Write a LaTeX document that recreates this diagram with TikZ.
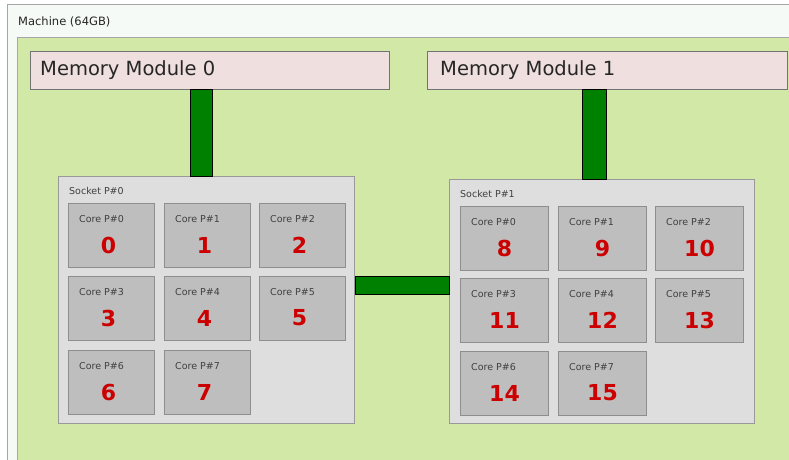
\documentclass[tikz,border=0pt]{standalone}
\usepackage{fontspec}
\setmainfont{DejaVu Sans}
\usetikzlibrary{calc}
\definecolor{machbg}{HTML}{F5FAF6}
\definecolor{bggreen}{HTML}{D2E8A6}
\definecolor{memfill}{HTML}{EFDFDF}
\definecolor{sockfill}{HTML}{DEDEDE}
\definecolor{corefill}{HTML}{BEBEBE}
\definecolor{coreline}{HTML}{8E8E8E}
\definecolor{numred}{HTML}{CC0000}
\definecolor{linkgreen}{HTML}{008000}
\tikzset{
  membox/.style={draw=gray!90!black, fill=memfill, line width=0.8pt, anchor=north west, minimum width=359pt, minimum height=38pt, inner sep=0pt},
  memtext/.style={anchor=west, font=\fontsize{19.5}{22}\selectfont, text=black!85, inner sep=0pt},
  sockbox/.style={draw=gray!80, fill=sockfill, line width=1pt, anchor=north west, inner sep=0pt},
  socktext/.style={anchor=west, font=\fontsize{9.5}{11}\selectfont, text=black!75, inner sep=0pt},
  corebox/.style={draw=coreline, fill=corefill, line width=1pt, anchor=north west, minimum width=86pt, minimum height=64pt, inner sep=0pt},
  coretext/.style={anchor=west, font=\fontsize{9.5}{11}\selectfont, text=black!75, inner sep=0pt},
  corenum/.style={font=\bfseries\fontsize{22}{24}\selectfont, text=numred, inner sep=0pt},
  link/.style={draw=black, fill=linkgreen, line width=0.8pt},
}
\begin{document}
\begin{tikzpicture}[x=1pt,y=-1pt]
\useasboundingbox (0,0) rectangle (789,460);
\fill[white] (0,0) rectangle (789,460);
% machine
\fill[machbg] (7,5) rectangle (789,460);
\draw[gray!70, line width=1pt] (7,460) -- (7,5) -- (789,5);
\node[anchor=west, font=\fontsize{11.5}{13}\selectfont, text=black!85, inner sep=0pt] (machtitle) at (18,22) {Machine (64GB)};
\fill[bggreen] (17,38) rectangle (789,460);
\draw[gray!70, line width=1pt] (17,460) -- (17,38) -- (789,38);
% memory modules
\node[membox] (mem0) at (30,51) {};
\node[memtext] (mem0t) at ($(mem0.west)+(10,0)$) {Memory Module 0};
\node[membox, minimum width=360pt] (mem1) at (427,51) {};
\node[memtext] (mem1t) at ($(mem1.west)+(13,0)$) {Memory Module 1};
% sockets
\node[sockbox, minimum width=296pt, minimum height=247pt] (sock0) at (58,176) {};
\node[socktext] (sock0t) at ($(sock0.north west)+(11,15)$) {Socket P\#0};
\node[sockbox, minimum width=305pt, minimum height=244pt] (sock1) at (449,179) {};
\node[socktext] (sock1t) at ($(sock1.north west)+(11,15)$) {Socket P\#1};
% connectors
\coordinate (l0a) at (190,0); \coordinate (l0b) at (212,0);
\coordinate (l1a) at (582,0); \coordinate (l1b) at (606,0);
\coordinate (hta) at (0,276); \coordinate (htb) at (0,294);
\draw[link] (mem0.south -| l0a) rectangle (sock0.north -| l0b);
\draw[link] (mem1.south -| l1a) rectangle (sock1.north -| l1b);
\draw[link] (sock0.east |- hta) rectangle (sock1.west |- htb);
% cores socket 0
\foreach \i/\x/\y/\n in {0/68/203/0, 1/164/203/1, 2/259/203/2, 3/68/276/3, 4/164/276/4, 5/259/276/5, 6/68/350/6, 7/164/350/7}{
  \node[corebox] (a\i) at (\x,\y) {};
  \node[coretext] (a\i t) at ($(a\i.north west)+(11,16)$) {Core P\#\i};
  \node[corenum] (a\i n) at ($(a\i.north)+(-3,42)$) {\n};
}
% cores socket 1
\foreach \i/\x/\y/\n in {0/460/206/8, 1/558/206/9, 2/655/206/10, 3/460/278/11, 4/558/278/12, 5/655/278/13, 6/460/351/14, 7/558/351/15}{
  \node[corebox, minimum width=88pt] (b\i) at (\x,\y) {};
  \node[coretext] (b\i t) at ($(b\i.north west)+(11,16)$) {Core P\#\i};
  \node[corenum] (b\i n) at ($(b\i.north)+(0,42)$) {\n};
}
\end{tikzpicture}
\end{document}
